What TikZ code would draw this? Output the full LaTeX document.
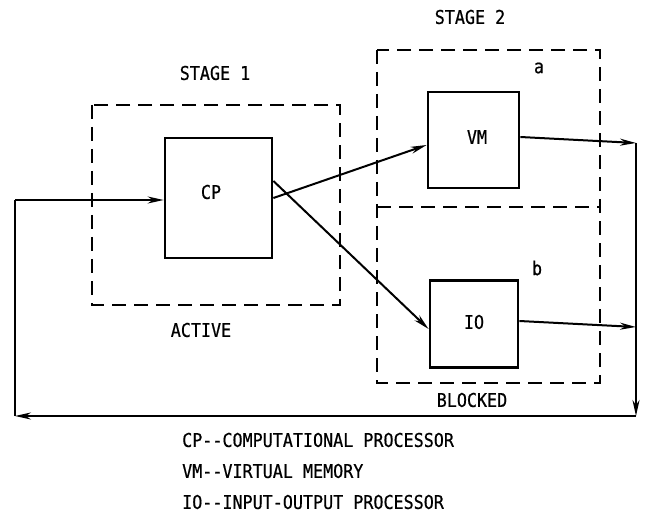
\documentclass[tikz,border=0pt]{standalone}
\usepackage{fontspec}
\setmainfont{DejaVu Sans Mono}[FakeStretch=0.88,FakeBold=0.6]
\usetikzlibrary{arrows.meta}
\begin{document}
\begin{tikzpicture}[x=1pt,y=-1pt,
  box/.style={draw,line width=2.8pt,minimum width=#1,inner sep=0pt},
  zone/.style={draw,line width=2pt,dash pattern=on 14pt off 8pt},
  flow/.style={line width=2pt,-{Stealth[length=16pt,width=7pt]}},
  plain/.style={line width=2pt},
  txt/.style={font=\fontsize{19}{21}\selectfont,inner sep=0pt},
  leg/.style={txt,anchor=west}]
\useasboundingbox (0,0) rectangle (646,516);
% zones
\draw[zone] (92,105) rectangle (340,305);
\draw[zone] (377,50) rectangle (600,383);
\draw[zone] (377,207) -- (600,207);
% boxes
\node[box=107pt,minimum height=120pt] (CP) at (218.5,198) {};
\node[box=91pt,minimum height=96pt] (VM) at (473.5,140) {};
\node[box=88pt,minimum height=87pt] (IO) at (474,324) {};
\node[txt] (cpt) at (211,192) {CP};
\node[txt] (vmt) at (477,137) {VM};
\node[txt] (iot) at (474,322) {IO};
% labels
\node[txt] (s1) at (215,73) {STAGE 1};
\node[txt] (s2) at (470,17) {STAGE 2};
\node[txt] (la) at (539,68) {a};
\node[txt] (lb) at (537,268) {b};
\node[txt] (act) at (201,330) {ACTIVE};
\node[txt] (blk) at (472,400) {BLOCKED};
% connectors
\coordinate (rt) at (636,143);
\coordinate (rb) at (636,416);
\coordinate (lbc) at (15,416);
\coordinate (lt) at (15,200);
\coordinate (ri) at (636,327);
\draw[flow] (CP.east) -- ([yshift=-5pt]VM.west);
\draw[flow] ([yshift=17pt]CP.east) -- ([yshift=-5pt]IO.west);
\draw[flow] ([yshift=3pt]VM.east) -- (rt);
\draw[flow] ([yshift=3pt]IO.east) -- (ri);
\draw[flow] (rt) -- (rb);
\draw[flow] (rb) -- (lbc);
\draw[plain] (lbc) -- (lt);
\draw[flow] (lt) -- (lt -| CP.west);
% legend
\node[leg] (l1) at (182,440) {CP-{}-COMPUTATIONAL PROCESSOR};
\node[leg] (l2) at (182,471) {VM-{}-VIRTUAL MEMORY};
\node[leg] (l3) at (182,502) {IO-{}-INPUT-OUTPUT PROCESSOR};
\end{tikzpicture}
\end{document}
